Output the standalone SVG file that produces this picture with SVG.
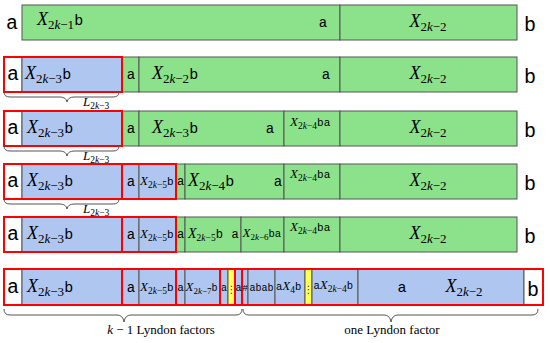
<svg xmlns="http://www.w3.org/2000/svg" width="550" height="343" viewBox="0 0 550 343">
<style>
.g{fill:#8be28b;stroke:#555;stroke-width:1}
.bl{fill:#afc7f0;stroke:#555;stroke-width:1}
.w{fill:#fff;stroke:#555;stroke-width:1}
.y{fill:#ffff55;stroke:#555;stroke-width:1}
.r{fill:none;stroke:#f00;stroke-width:2}
.br{fill:none;stroke:#555;stroke-width:1}
.tt{font-family:"Liberation Mono","DejaVu Sans Mono",monospace;fill:#000}
.rm{font-family:"Liberation Serif","DejaVu Serif",serif;fill:#000}
.it{font-style:italic}
.L{font-size:18px}
.m{text-anchor:middle}
.big{font-size:20px}
.dots{font-family:"DejaVu Sans",sans-serif;font-size:10px;fill:#333;text-anchor:middle}
</style>

<g id="row1">
<text class="tt big m" x="12" y="29">a</text>
<rect class="g" x="22" y="5" width="318" height="35"/>
<rect class="g" x="340" y="5" width="177" height="35"/>
<text class="rm L" x="37" y="25"><tspan class="it">X</tspan><tspan font-size="13" dy="4">2<tspan class="it">k</tspan>−1</tspan><tspan class="tt" font-size="15" dy="-4">b</tspan></text>
<text class="tt m" font-size="14" x="323" y="27">a</text>
<text class="rm L m" x="428" y="27"><tspan class="it">X</tspan><tspan font-size="13" dy="4">2<tspan class="it">k</tspan>−2</tspan></text>
<text class="tt big m" x="530" y="31">b</text>
</g>

<g id="row2">
<rect class="w" x="4" y="57" width="18" height="35"/>
<rect class="bl" x="22" y="57" width="100" height="35"/>
<rect class="g" x="122" y="57" width="17" height="35"/>
<rect class="g" x="139" y="57" width="201" height="35"/>
<rect class="g" x="340" y="57" width="177" height="35"/>
<rect class="r" x="4" y="57" width="118" height="35"/>
<text class="tt big m" x="13" y="80">a</text>
<text class="rm L" x="25" y="79"><tspan class="it">X</tspan><tspan font-size="13" dy="4">2<tspan class="it">k</tspan>−3</tspan><tspan class="tt" font-size="15" dy="-4">b</tspan></text>
<text class="tt m" font-size="14" x="131" y="79">a</text>
<text class="rm L" x="152" y="79"><tspan class="it">X</tspan><tspan font-size="13" dy="4">2<tspan class="it">k</tspan>−2</tspan><tspan class="tt" font-size="15" dy="-4">b</tspan></text>
<text class="tt m" font-size="14" x="326" y="79">a</text>
<text class="rm L m" x="428" y="79"><tspan class="it">X</tspan><tspan font-size="13" dy="4">2<tspan class="it">k</tspan>−2</tspan></text>
<text class="tt big m" x="530" y="83">b</text>
</g>

<g id="row3">
<rect class="w" x="4" y="111" width="18" height="35"/>
<rect class="bl" x="22" y="111" width="100" height="35"/>
<rect class="g" x="122" y="111" width="17" height="35"/>
<rect class="g" x="139" y="111" width="145" height="35"/>
<rect class="g" x="284" y="111" width="56" height="35"/>
<rect class="g" x="340" y="111" width="177" height="35"/>
<rect class="r" x="4" y="111" width="118" height="35"/>
<text class="tt big m" x="13" y="134">a</text>
<text class="rm L" x="27" y="133"><tspan class="it">X</tspan><tspan font-size="13" dy="4">2<tspan class="it">k</tspan>−3</tspan><tspan class="tt" font-size="15" dy="-4">b</tspan></text>
<text class="tt m" font-size="14" x="131" y="133">a</text>
<text class="rm L" x="152" y="133"><tspan class="it">X</tspan><tspan font-size="13" dy="4">2<tspan class="it">k</tspan>−3</tspan><tspan class="tt" font-size="15" dy="-4">b</tspan></text>
<text class="tt m" font-size="14" x="270" y="133">a</text>
<text class="rm" font-size="13" x="290" y="126"><tspan class="it">X</tspan><tspan font-size="9.5" dy="3">2<tspan class="it">k</tspan>−4</tspan><tspan class="tt" font-size="11" dy="-3">ba</tspan></text>
<text class="rm L m" x="428" y="133"><tspan class="it">X</tspan><tspan font-size="13" dy="4">2<tspan class="it">k</tspan>−2</tspan></text>
<text class="tt big m" x="530" y="137">b</text>
</g>

<g id="row4">
<rect class="w" x="4" y="164" width="18" height="35"/>
<rect class="bl" x="22" y="164" width="100" height="35"/>
<rect class="bl" x="122" y="164" width="17" height="35"/>
<rect class="bl" x="139" y="164" width="37" height="35"/>
<rect class="g" x="176" y="164" width="9" height="35"/>
<rect class="g" x="185" y="164" width="99" height="35"/>
<rect class="g" x="284" y="164" width="56" height="35"/>
<rect class="g" x="340" y="164" width="177" height="35"/>
<rect class="r" x="4" y="164" width="118" height="35"/>
<rect class="r" x="122" y="164" width="54" height="35"/>
<text class="tt big m" x="13" y="187">a</text>
<text class="rm L" x="27" y="186"><tspan class="it">X</tspan><tspan font-size="13" dy="4">2<tspan class="it">k</tspan>−3</tspan><tspan class="tt" font-size="15" dy="-4">b</tspan></text>
<text class="tt m" font-size="14" x="131" y="186">a</text>
<text class="rm" font-size="13" x="140" y="185"><tspan class="it">X</tspan><tspan font-size="9.5" dy="3">2<tspan class="it">k</tspan>−5</tspan><tspan class="tt" font-size="11" dy="-3">b</tspan></text>
<text class="tt m" font-size="12" x="180.5" y="185">a</text>
<text class="rm L" x="188" y="186"><tspan class="it">X</tspan><tspan font-size="13" dy="4">2<tspan class="it">k</tspan>−4</tspan><tspan class="tt" font-size="15" dy="-4">b</tspan></text>
<text class="tt m" font-size="14" x="278" y="186">a</text>
<text class="rm" font-size="13" x="290" y="178"><tspan class="it">X</tspan><tspan font-size="9.5" dy="3">2<tspan class="it">k</tspan>−4</tspan><tspan class="tt" font-size="11" dy="-3">ba</tspan></text>
<text class="rm L m" x="428" y="186"><tspan class="it">X</tspan><tspan font-size="13" dy="4">2<tspan class="it">k</tspan>−2</tspan></text>
<text class="tt big m" x="530" y="190">b</text>
</g>

<g id="row5">
<rect class="w" x="4" y="217" width="18" height="35"/>
<rect class="bl" x="22" y="217" width="100" height="35"/>
<rect class="bl" x="122" y="217" width="17" height="35"/>
<rect class="bl" x="139" y="217" width="37" height="35"/>
<rect class="g" x="176" y="217" width="9" height="35"/>
<rect class="g" x="185" y="217" width="56" height="35"/>
<rect class="g" x="241" y="217" width="43" height="35"/>
<rect class="g" x="284" y="217" width="56" height="35"/>
<rect class="g" x="340" y="217" width="177" height="35"/>
<rect class="r" x="4" y="217" width="118" height="35"/>
<rect class="r" x="122" y="217" width="54" height="35"/>
<text class="tt big m" x="13" y="240">a</text>
<text class="rm L" x="27" y="239"><tspan class="it">X</tspan><tspan font-size="13" dy="4">2<tspan class="it">k</tspan>−3</tspan><tspan class="tt" font-size="15" dy="-4">b</tspan></text>
<text class="tt m" font-size="14" x="131" y="239">a</text>
<text class="rm" font-size="13" x="140" y="238"><tspan class="it">X</tspan><tspan font-size="9.5" dy="3">2<tspan class="it">k</tspan>−5</tspan><tspan class="tt" font-size="11" dy="-3">b</tspan></text>
<text class="tt m" font-size="12" x="180.5" y="238">a</text>
<text class="rm" font-size="14" x="188" y="238"><tspan class="it">X</tspan><tspan font-size="9.5" dy="3">2<tspan class="it">k</tspan>−5</tspan><tspan class="tt" font-size="12" dy="-3">b</tspan></text>
<text class="tt m" font-size="12" x="235" y="238">a</text>
<text class="rm" font-size="13" x="242.5" y="237"><tspan class="it">X</tspan><tspan font-size="9" dy="3">2<tspan class="it">k</tspan>−6</tspan><tspan class="tt" font-size="10.5" dy="-3">ba</tspan></text>
<text class="rm" font-size="13" x="290" y="231"><tspan class="it">X</tspan><tspan font-size="9.5" dy="3">2<tspan class="it">k</tspan>−4</tspan><tspan class="tt" font-size="11" dy="-3">ba</tspan></text>
<text class="rm L m" x="428" y="239"><tspan class="it">X</tspan><tspan font-size="13" dy="4">2<tspan class="it">k</tspan>−2</tspan></text>
<text class="tt big m" x="530" y="243">b</text>
</g>

<g id="row6">
<rect class="w" x="4" y="269" width="18" height="36"/>
<rect class="bl" x="22" y="269" width="100" height="36"/>
<rect class="bl" x="122" y="269" width="17" height="36"/>
<rect class="bl" x="139" y="269" width="37" height="36"/>
<rect class="bl" x="176" y="269" width="9" height="36"/>
<rect class="bl" x="185" y="269" width="35" height="36"/>
<rect class="bl" x="220" y="269" width="8" height="36"/>
<rect class="y" x="228" y="269" width="7" height="36"/>
<rect class="bl" x="235" y="269" width="7" height="36"/>
<rect class="bl" x="242" y="269" width="6" height="36"/>
<rect class="bl" x="248" y="269" width="27" height="36"/>
<rect class="bl" x="275" y="269" width="30" height="36"/>
<rect class="y" x="305" y="269" width="7" height="36"/>
<rect class="bl" x="312" y="269" width="46" height="36"/>
<rect class="bl" x="358" y="269" width="166" height="36"/>
<rect class="w" x="524" y="269" width="19" height="36"/>
<rect class="r" x="4" y="269" width="118" height="36"/>
<rect class="r" x="122" y="269" width="54" height="36"/>
<rect class="r" x="176" y="269" width="44" height="36"/>
<rect class="r" x="220" y="269" width="15" height="36"/>
<rect class="r" x="235" y="269" width="7" height="36"/>
<rect class="r" x="242" y="269" width="301" height="36"/>
<text class="tt big m" x="13" y="293">a</text>
<text class="rm L" x="27" y="292"><tspan class="it">X</tspan><tspan font-size="13" dy="4">2<tspan class="it">k</tspan>−3</tspan><tspan class="tt" font-size="15" dy="-4">b</tspan></text>
<text class="tt m" font-size="14" x="131" y="292">a</text>
<text class="rm" font-size="13" x="140" y="291"><tspan class="it">X</tspan><tspan font-size="9.5" dy="3">2<tspan class="it">k</tspan>−5</tspan><tspan class="tt" font-size="11" dy="-3">b</tspan></text>
<text class="tt m" font-size="11" x="180.5" y="291">a</text>
<text class="rm" font-size="13" x="185.5" y="291"><tspan class="it">X</tspan><tspan font-size="9" dy="3">2<tspan class="it">k</tspan>−7</tspan><tspan class="tt" font-size="10" dy="-3">b</tspan></text>
<text class="tt m" font-size="10" x="224" y="291">a</text>
<text class="dots" x="231.5" y="293">⋮</text>
<text class="tt m" font-size="10" x="238.5" y="291">a</text>
<text class="tt m" font-size="9.5" x="245" y="291">#</text>
<text class="tt m" font-size="10" x="261.5" y="291">abab</text>
<text class="rm" font-size="13" x="276" y="290"><tspan class="tt" font-size="10.5">a</tspan><tspan class="it">X</tspan><tspan font-size="9.5" dy="3">4</tspan><tspan class="tt" font-size="10.5" dy="-3">b</tspan></text>
<text class="dots" x="308.5" y="293">⋮</text>
<text class="rm" font-size="13" x="313.5" y="289"><tspan class="tt" font-size="10.5">a</tspan><tspan class="it">X</tspan><tspan font-size="9.5" dy="3">2<tspan class="it">k</tspan>−4</tspan><tspan class="tt" font-size="10.5" dy="-3">b</tspan></text>
<text class="tt m" font-size="15" x="402" y="292">a</text>
<text class="rm L m" x="464" y="292"><tspan class="it">X</tspan><tspan font-size="13" dy="4">2<tspan class="it">k</tspan>−2</tspan></text>
<text class="tt big m" x="533" y="296">b</text>
</g>

<g id="braces">
<path class="br" d="M4,92 Q4,97 10,97 L60,97 Q66,97 67,102 Q68,97 74,97 L113,97 Q119,97 119,92"/>
<path class="br" d="M4,146 Q4,151 10,151 L60,151 Q66,151 67,156 Q68,151 74,151 L113,151 Q119,151 119,146"/>
<path class="br" d="M4,199 Q4,204 10,204 L60,204 Q66,204 67,209 Q68,204 74,204 L113,204 Q119,204 119,199"/>
<path class="br" d="M4,309 Q4,315 10,315 L117,315 Q123,315 124,322 Q125,315 131,315 L236,315 Q242,315 242,309"/>
<path class="br" d="M243,309 Q243,315 249,315 L384,315 Q390,315 391,322 Q392,315 398,315 L532,315 Q538,315 538,309"/>
</g>

<g id="labels">
<text class="rm" font-size="13" x="83" y="106"><tspan class="it">L</tspan><tspan font-size="9.5" dy="3">2<tspan class="it">k</tspan>−3</tspan></text>
<text class="rm" font-size="13" x="83" y="160"><tspan class="it">L</tspan><tspan font-size="9.5" dy="3">2<tspan class="it">k</tspan>−3</tspan></text>
<text class="rm" font-size="13" x="83" y="213"><tspan class="it">L</tspan><tspan font-size="9.5" dy="3">2<tspan class="it">k</tspan>−3</tspan></text>
<text class="rm m" font-size="13" x="161" y="334"><tspan class="it">k</tspan> − 1 Lyndon factors</text>
<text class="rm m" font-size="13" x="392" y="334">one Lyndon factor</text>
</g>
</svg>
